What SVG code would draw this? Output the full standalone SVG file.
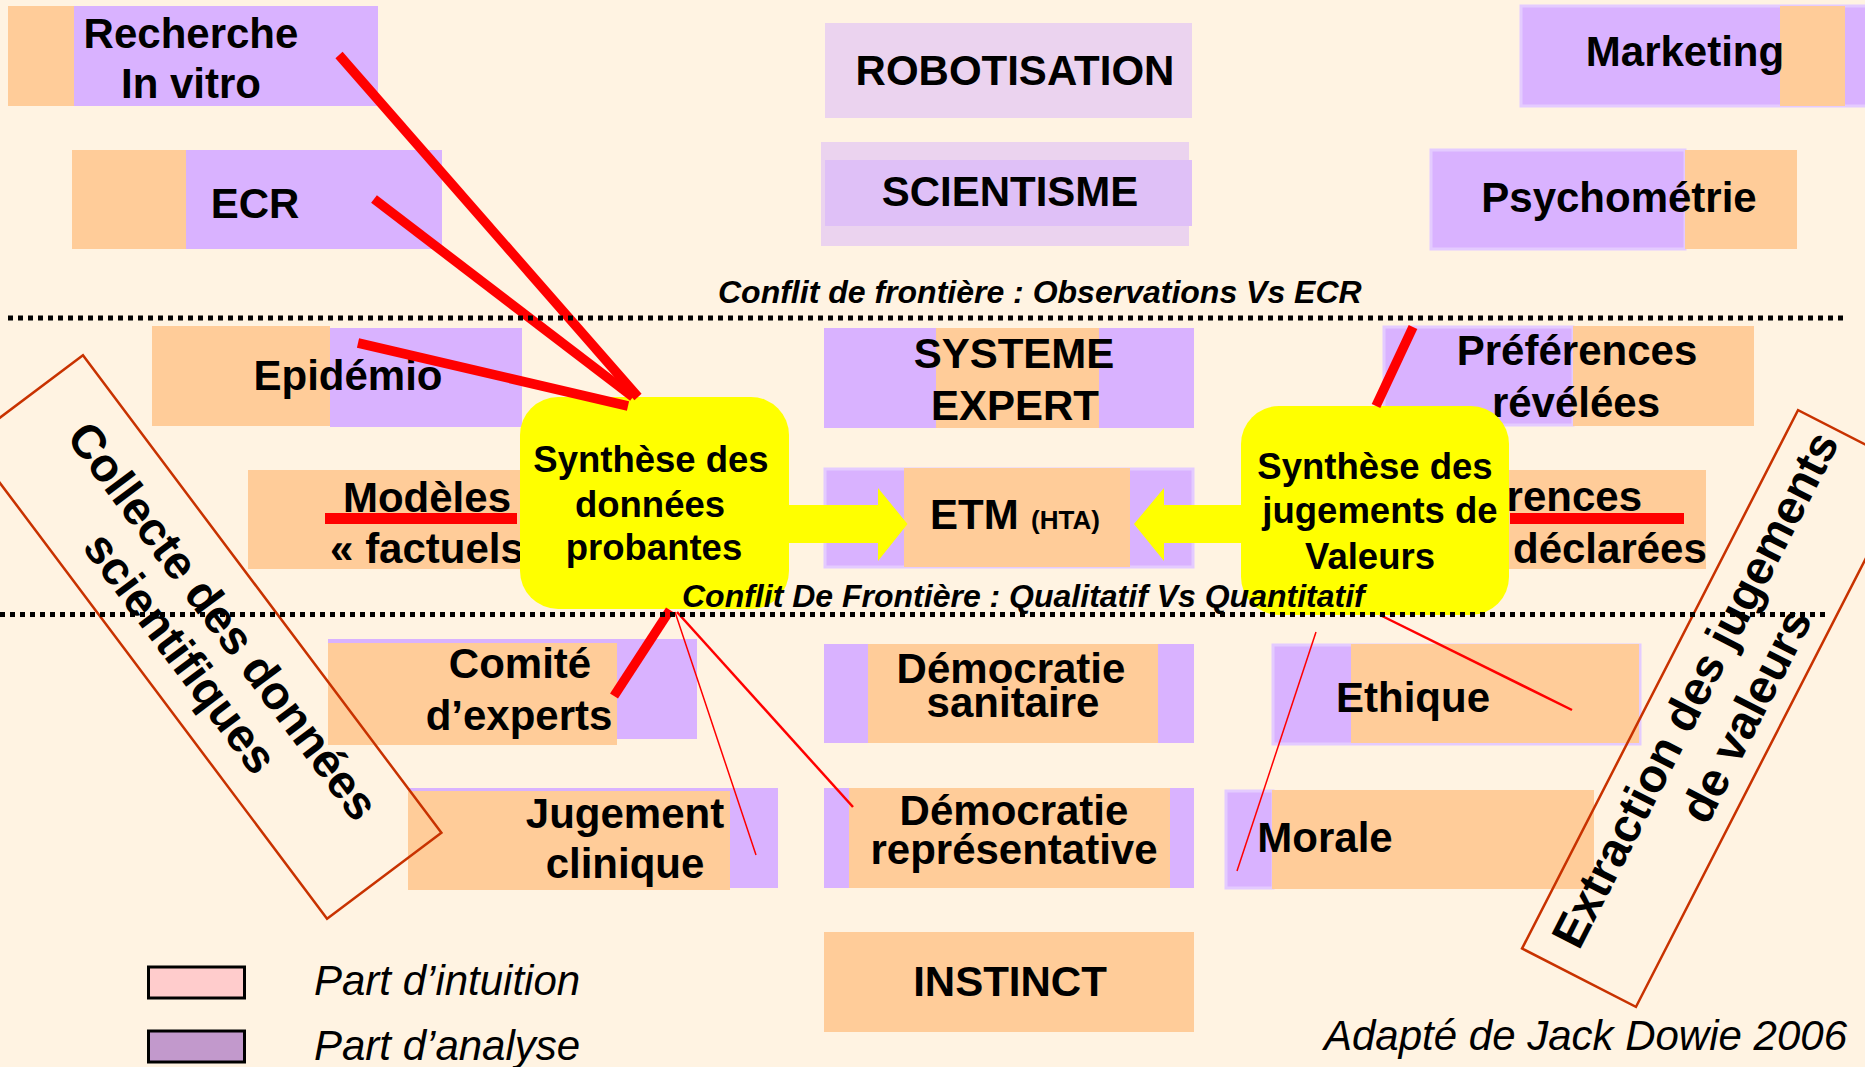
<svg xmlns="http://www.w3.org/2000/svg" width="1865" height="1067" viewBox="0 0 1865 1067">
<style>
.lbl{font-family:"Liberation Sans",Arial,sans-serif;font-weight:bold;font-size:42px;fill:#000;text-anchor:middle}
.syn{font-family:"Liberation Sans",Arial,sans-serif;font-weight:bold;font-size:36.5px;fill:#000;text-anchor:middle}
.conf{font-family:"Liberation Sans",Arial,sans-serif;font-weight:bold;font-style:italic;font-size:32px;fill:#000}
.it{font-family:"Liberation Sans",Arial,sans-serif;font-style:italic;font-size:42px;fill:#000}
.rot{font-family:"Liberation Sans",Arial,sans-serif;font-weight:bold;font-size:47px;fill:#000;text-anchor:middle}
.pe{fill:#FFCC99}
.la{fill:#D9B2FF}
.lb{fill:#D9B2FF;stroke:#E4CBFF;stroke-width:3}
.yb{fill:#FFFF00}
.dot{fill:none;stroke:#000;stroke-width:5;stroke-dasharray:5 5}
.thick{fill:none;stroke:#FF0000;stroke-width:9.5}
.frame{fill:none;stroke:#C83200;stroke-width:2.5}
</style>
<rect x="0" y="0" width="1865" height="1067" fill="#FFF3E2"/>

<g id="recherche">
<rect class="pe" x="8" y="6" width="66" height="100"/>
<rect class="la" x="74" y="6" width="304" height="100"/>
<text class="lbl" x="191" y="48">Recherche</text>
<text class="lbl" x="191" y="98">In vitro</text>
</g>
<g id="ecr">
<rect class="pe" x="72" y="150" width="114" height="99"/>
<rect class="la" x="186" y="150" width="256" height="99"/>
<text class="lbl" x="255" y="218">ECR</text>
</g>
<g id="robotisation">
<rect x="825" y="23" width="367" height="95" fill="#EBD3EF"/>
<text class="lbl" x="1015" y="85">ROBOTISATION</text>
</g>
<g id="scientisme">
<rect x="821" y="142" width="368" height="104" fill="#EBD3EF"/>
<rect x="825" y="160" width="367" height="66" fill="#DFC0F7"/>
<text class="lbl" x="1010" y="206">SCIENTISME</text>
</g>
<g id="marketing">
<rect class="lb" x="1521" y="6" width="350" height="100"/>
<rect class="pe" x="1780" y="6" width="65" height="100"/>
<text class="lbl" x="1685" y="66">Marketing</text>
</g>
<g id="psychometrie">
<rect class="lb" x="1431" y="150" width="254" height="99"/>
<rect class="pe" x="1685" y="150" width="112" height="99"/>
<text class="lbl" x="1619" y="212">Psychométrie</text>
</g>
<g id="epidemio">
<rect class="la" x="330" y="328" width="192" height="99"/>
<rect class="pe" x="152" y="326" width="178" height="100"/>
<text class="lbl" x="348" y="390">Epidémio</text>
</g>
<g id="modeles">
<rect class="pe" x="248" y="470" width="273" height="99"/>
<text class="lbl" x="427" y="512">Modèles</text>
<text class="lbl" x="427" y="563">« factuels</text>
</g>
<g id="systeme-expert">
<rect class="la" x="824" y="328" width="370" height="100"/>
<rect class="pe" x="936" y="328" width="163" height="100"/>
<text class="lbl" x="1014" y="368">SYSTEME</text>
<text class="lbl" x="1015" y="420">EXPERT</text>
</g>
<g id="etm">
<rect class="lb" x="825" y="469" width="368" height="98"/>
<rect class="pe" x="904" y="468" width="226" height="99"/>
<text class="lbl" x="930" y="529" style="text-anchor:start">ETM<tspan x="1031" font-size="26">(HTA)</tspan></text>
</g>
<g id="preferences-revelees">
<rect class="lb" x="1384" y="327" width="189" height="98"/>
<rect class="pe" x="1573" y="326" width="181" height="100"/>
<text class="lbl" x="1577" y="365">Préférences</text>
<text class="lbl" x="1576" y="417">révélées</text>
</g>
<g id="preferences-declarees">
<rect class="pe" x="1440" y="470" width="266" height="99"/>
<text class="lbl" x="1642" y="511" style="text-anchor:end">rences</text>
<text class="lbl" x="1513" y="563" style="text-anchor:start">déclarées</text>
</g>
<g id="comite">
<rect class="la" x="328" y="639" width="369" height="100"/>
<rect class="pe" x="328" y="643" width="289" height="102"/>
<text class="lbl" x="520" y="678">Comité</text>
<text class="lbl" x="519" y="730">d’experts</text>
</g>
<g id="jugement">
<rect class="la" x="408" y="788" width="370" height="100"/>
<rect class="pe" x="408" y="791" width="322" height="99"/>
<text class="lbl" x="625" y="828">Jugement</text>
<text class="lbl" x="625" y="878">clinique</text>
</g>
<g id="democratie-sanitaire">
<rect class="la" x="824" y="644" width="370" height="99"/>
<rect class="pe" x="868" y="644" width="290" height="99"/>
<text class="lbl" x="1011" y="683">Démocratie</text>
<text class="lbl" x="1013" y="717">sanitaire</text>
</g>
<g id="democratie-representative">
<rect class="la" x="824" y="788" width="370" height="100"/>
<rect class="pe" x="849" y="788" width="321" height="100"/>
<text class="lbl" x="1014" y="825">Démocratie</text>
<text class="lbl" x="1014" y="864">représentative</text>
</g>
<g id="instinct">
<rect class="pe" x="824" y="932" width="370" height="100"/>
<text class="lbl" x="1010" y="996">INSTINCT</text>
</g>
<g id="ethique">
<rect class="lb" x="1273" y="645" width="367" height="99"/>
<rect class="pe" x="1351" y="644" width="288" height="99"/>
<text class="lbl" x="1413" y="712">Ethique</text>
</g>
<g id="morale">
<rect class="lb" x="1226" y="791" width="47" height="97"/>
<rect class="pe" x="1272" y="790" width="322" height="99"/>
<text class="lbl" x="1325" y="852">Morale</text>
</g>

<g id="synthese-donnees">
<rect class="yb" x="520" y="397" width="269" height="212" rx="38" ry="38"/>
<text class="syn" x="651" y="472">Synthèse des</text>
<text class="syn" x="650" y="517">données</text>
<text class="syn" x="654" y="560">probantes</text>
</g>
<g id="synthese-valeurs">
<rect class="yb" x="1241" y="406" width="268" height="209" rx="38" ry="38"/>
<text class="syn" x="1375" y="479">Synthèse des</text>
<text class="syn" x="1380" y="523">jugements de</text>
<text class="syn" x="1370" y="569">Valeurs</text>
</g>

<g id="collecte">
<g transform="translate(205,637) rotate(53.1)">
<rect class="frame" x="-298.5" y="-71.5" width="597" height="143"/>
<text class="rot" x="-2" y="-8">Collecte des données</text>
<text class="rot" x="-2" y="45">scientifiques</text>
</g>
</g>
<g id="extraction">
<g transform="translate(1717,708.5) rotate(-62.86)">
<rect class="frame" x="-302.5" y="-64" width="605" height="128"/>
<text class="rot" x="7" y="-12">Extraction des jugements</text>
<text class="rot" x="7" y="45">de valeurs</text>
</g>
</g>

<g id="connectors">
<line class="thick" x1="339" y1="55" x2="638" y2="397"/>
<line class="thick" x1="374" y1="199" x2="633" y2="397"/>
<line class="thick" x1="358" y1="343" x2="628" y2="406"/>
<line class="thick" x1="614" y1="696" x2="670" y2="610"/>
<line x1="675" y1="612" x2="756" y2="855" stroke="#FF0000" stroke-width="1.5"/>
<line x1="677" y1="612" x2="853" y2="807" stroke="#FF0000" stroke-width="2.5"/>
<line x1="325" y1="518.5" x2="517" y2="518.5" stroke="#FF0000" stroke-width="11"/>
<line class="thick" x1="1376" y1="406" x2="1413" y2="327"/>
<line x1="1510" y1="518.5" x2="1684" y2="518.5" stroke="#FF0000" stroke-width="11"/>
<line x1="1380" y1="615" x2="1572" y2="710" stroke="#FF0000" stroke-width="2.5"/>
<line x1="1316" y1="632" x2="1237" y2="871" stroke="#FF0000" stroke-width="1.5"/>
<polygon class="yb" points="789,505 878,505 878,488 907.5,524 878,561 878,543 789,543"/>
<polygon class="yb" points="1241,505 1164,505 1164,488 1134,524 1164,561 1164,543 1241,543"/>
</g>

<g id="boundaries">
<line class="dot" x1="8" y1="318" x2="1845" y2="318"/>
<line class="dot" x1="0" y1="614.5" x2="1825" y2="614.5"/>
<text class="conf" x="718" y="303">Conflit de frontière : Observations Vs ECR</text>
<text class="conf" x="682" y="607">Conflit De Frontière : Qualitatif Vs Quantitatif</text>
</g>

<g id="legend">
<rect x="148.5" y="967" width="96" height="31" fill="#FFCCCC" stroke="#000" stroke-width="3"/>
<rect x="148.5" y="1031" width="96" height="31" fill="#C299CC" stroke="#000" stroke-width="3"/>
<text class="it" x="314" y="995">Part d’intuition</text>
<text class="it" x="314" y="1060">Part d’analyse</text>
</g>
<text class="it" x="1847" y="1050" style="text-anchor:end">Adapté de Jack Dowie 2006</text>
</svg>
